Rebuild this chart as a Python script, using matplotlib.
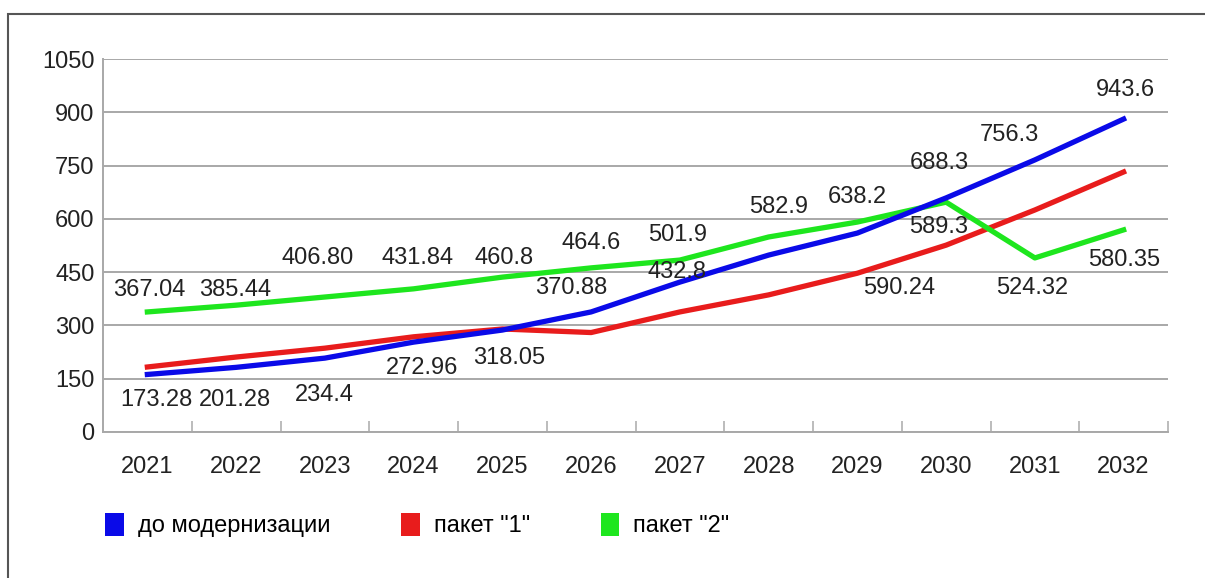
import numpy as np
import matplotlib.pyplot as plt
from matplotlib.patches import Patch, Rectangle
from matplotlib.ticker import FixedLocator

# годы и значения линий
years = ["2021", "2022", "2023", "2024", "2025", "2026",
         "2027", "2028", "2029", "2030", "2031", "2032"]
do_modern = [162, 182, 208, 253, 287, 338, 422, 498, 560, 659, 766, 881]
paket1 = [183, 211, 236, 268, 290, 280, 338, 386, 447, 526, 625, 732]
paket2 = [338, 357, 380, 403, 436, 462, 484, 549, 591, 647, 490, 569]

series_names = ["до модернизации", 'пакет "1"', 'пакет "2"']
series_colors = ["#0a0ae8", "#e81c1c", "#1ee61e"]

# подписи значений (текст как на исходной картинке)
label_texts = ["367.04", "385.44", "406.80", "431.84", "460.8", "464.6",
               "501.9", "582.9", "638.2", "688.3", "756.3", "943.6",
               "589.3", "580.35", "524.32", "590.24", "432.8", "370.88",
               "318.05", "272.96", "234.4", "201.28", "173.28"]
label_x = [0.02, 0.99, 1.92, 3.04, 4.02, 5.0, 5.97, 7.11, 8.0, 8.92, 9.71, 11.02,
           8.92, 11.01, 9.97, 8.47, 5.97, 4.78, 4.08, 3.1, 1.99, 0.99, 0.1]
label_y = [400, 400, 490, 490, 490, 532, 555, 633, 662, 757, 836, 963,
           577, 484, 405, 405, 450, 405, 208, 180, 104, 90, 90]

plt.rcParams['font.family'] = ['Liberation Sans', 'DejaVu Sans']
fs = 17

fig = plt.figure(figsize=(12.05, 5.78), dpi=100)
ax = fig.add_axes([103 / 1205, 1 - 432 / 578, (1168 - 103) / 1205, (432 - 59) / 578])

# рамка вокруг рисунка
fig.add_artist(Rectangle((8 / 1205, -0.1), 1.2, 1 - 14 / 578 + 0.1,
                         transform=fig.transFigure, fill=False,
                         edgecolor="#555555", linewidth=1.5))

x = np.arange(len(years))
ax.plot(x, paket1, color=series_colors[1], linewidth=3.8, zorder=3)
ax.plot(x, paket2, color=series_colors[2], linewidth=3.8, zorder=4)
ax.plot(x, do_modern, color=series_colors[0], linewidth=3.8, zorder=5)

for t, lx, ly in zip(label_texts, label_x, label_y):
    ax.text(lx, ly, t, ha="center", va="center", fontsize=fs,
            color="#222222", zorder=6)

ax.set_xlim(-0.5, 11.5)
ax.set_ylim(0, 1050)
ax.set_yticks(np.arange(0, 1051, 150))
ax.yaxis.grid(True, color="#a8a8a8", linewidth=1.4)
ax.set_axisbelow(True)

ax.set_xticks(x)
ax.set_xticklabels(years)
ax.xaxis.set_minor_locator(FixedLocator(np.arange(0.5, 11.6, 1)))
ax.tick_params(axis="x", which="major", length=0, pad=17, labelsize=fs,
               labelcolor="#222222")
ax.tick_params(axis="x", which="minor", direction="in", length=8,
               color="#b0b0b0", width=1.2)
ax.tick_params(axis="y", length=0, pad=6, labelsize=fs, labelcolor="#222222")

for s in ["top", "right"]:
    ax.spines[s].set_visible(False)
ax.spines["left"].set_color("#a8a8a8")
ax.spines["bottom"].set_color("#a8a8a8")
ax.spines["left"].set_linewidth(1.4)
ax.spines["bottom"].set_linewidth(1.4)

handles = [Patch(facecolor=c, edgecolor="none") for c in series_colors]
fig.legend(handles, series_names, loc="center left",
           bbox_to_anchor=(96 / 1205, 1 - 525 / 578), ncol=3, frameon=False,
           fontsize=fs, handlelength=0.78, handleheight=1.15,
           handletextpad=0.6, columnspacing=3.0, borderaxespad=0)

fig.savefig("out.png", dpi=100)
